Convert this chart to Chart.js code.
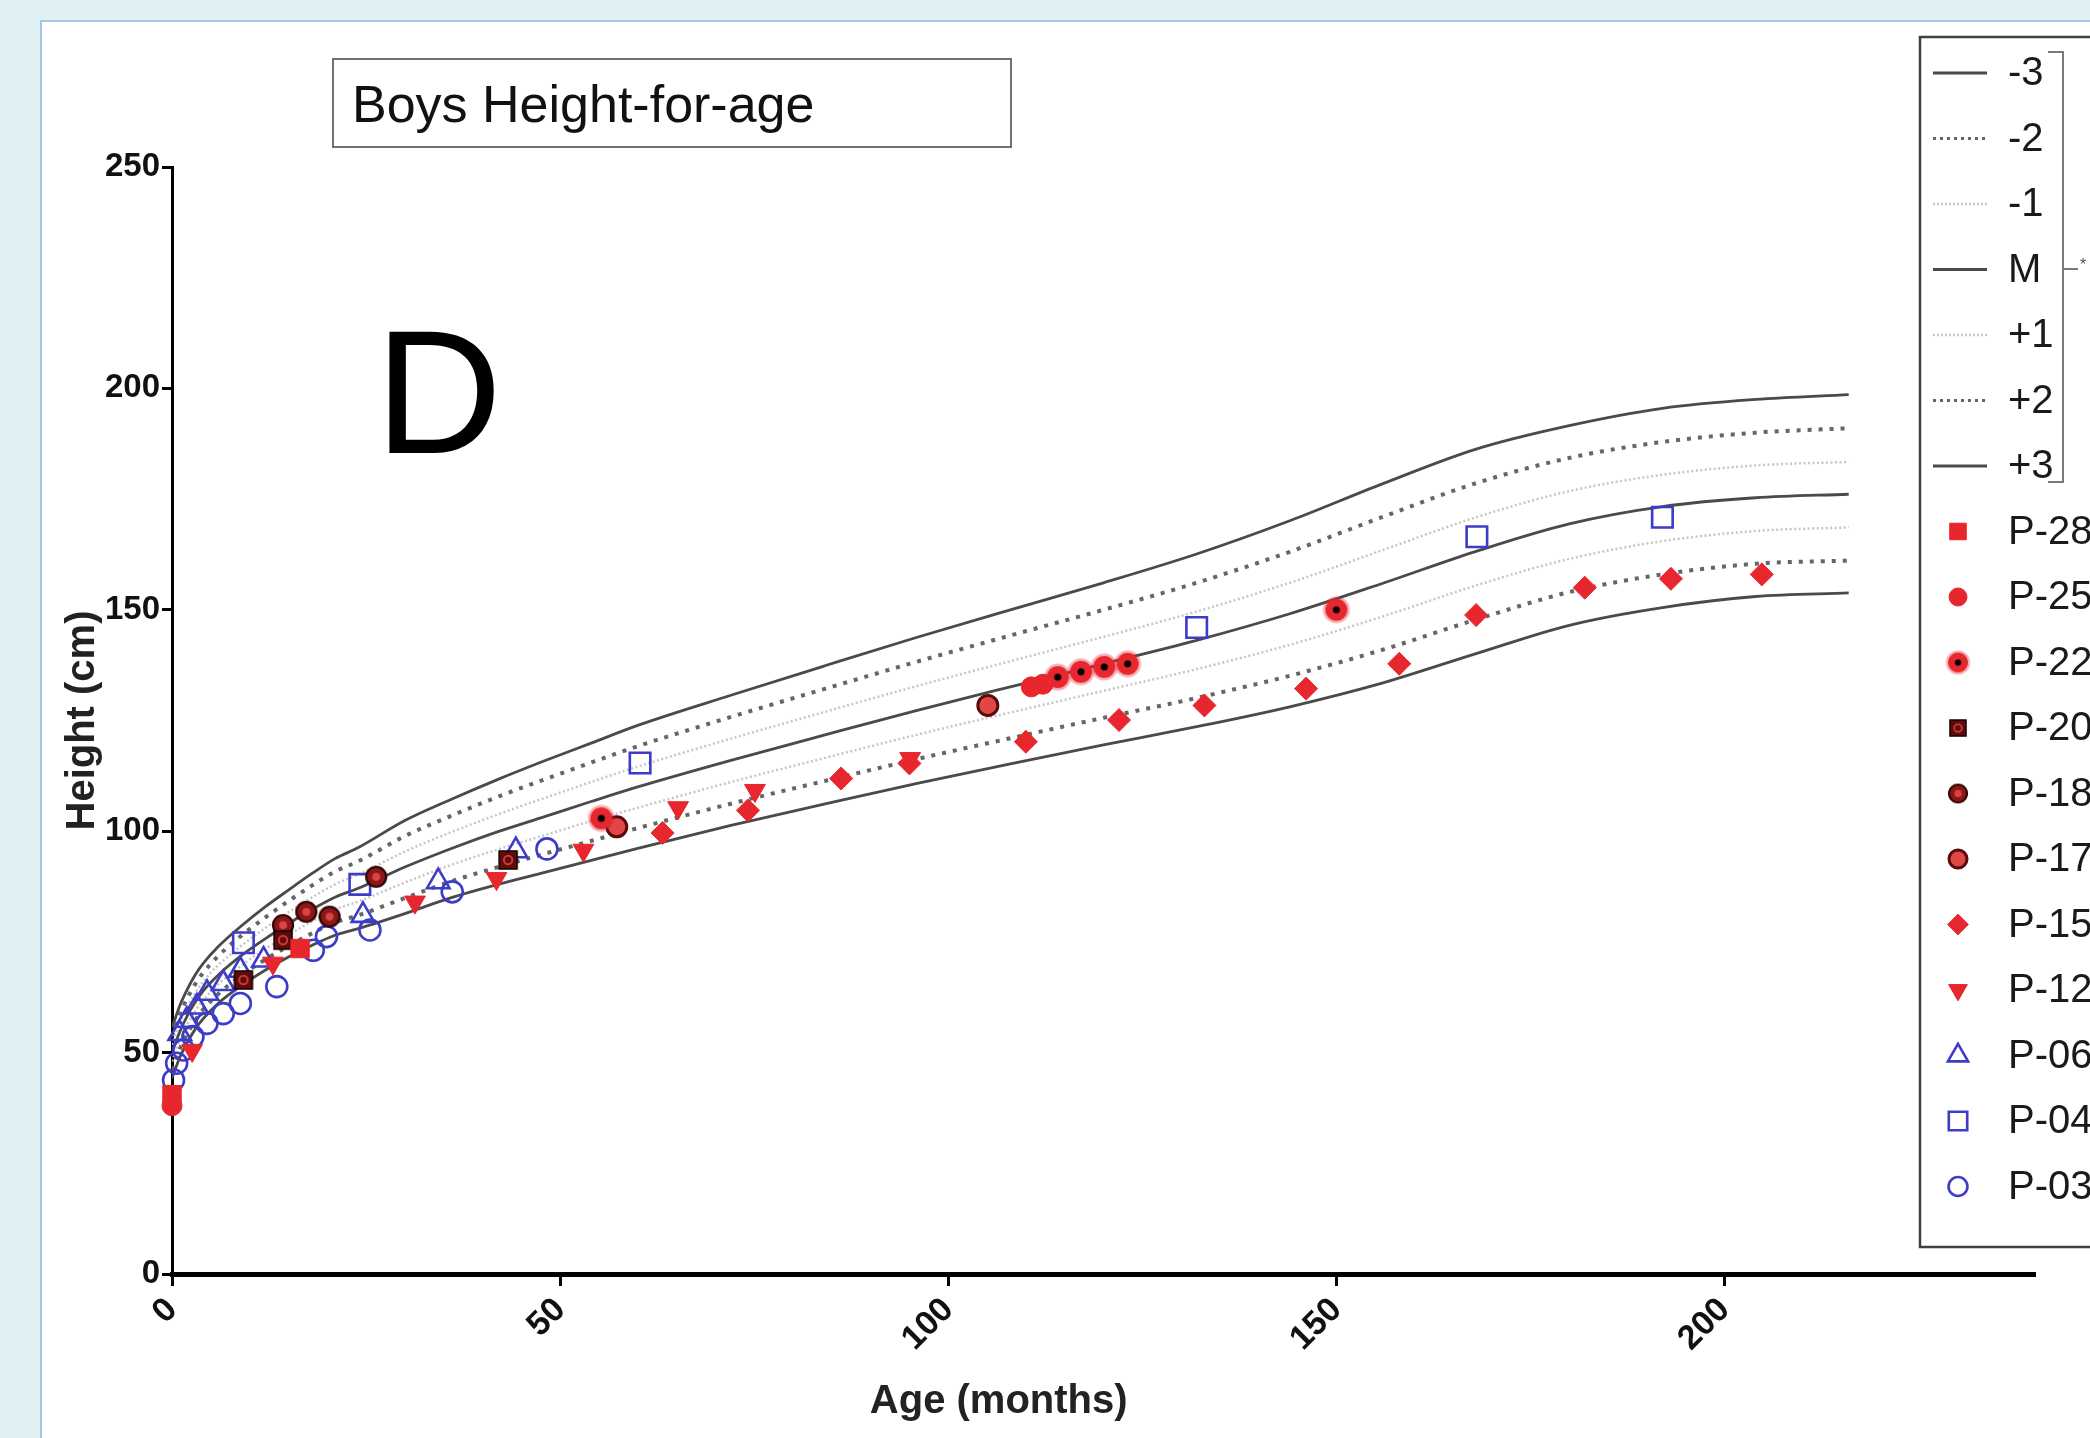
<!DOCTYPE html>
<html>
<head>
<meta charset="utf-8">
<script src="https://cdn.jsdelivr.net/npm/chart.js@4.4.1/dist/chart.umd.min.js"></script>
<style>
html,body{margin:0;padding:0;background:#e0eff2;overflow:hidden}
canvas{display:block}
</style>
</head>
<body>
<canvas id="c" width="2090" height="1438"></canvas>
<script>
// ---------- reference curves (age in months, height in cm) ----------
const refAges  = [0,1,2,3,4,6,9,12,15,18,21,24,30,36,42,48,54,60,72,84,96,108,120,132,144,156,168,180,192,204,216];
const sdMinus3 = [44.2,48.9,52.4,55.3,57.6,61.2,65.2,68.6,71.6,74.2,76.5,78.0,81.4,85.0,88.0,90.7,93.4,96.1,101.3,106.1,110.8,115.2,119.5,123.6,128.1,133.5,140.1,146.5,150.5,153.0,153.8];
const sdMinus2 = [46.1,50.8,54.4,57.3,59.7,63.3,67.5,71.0,74.1,76.9,79.4,81.0,84.9,88.7,91.9,94.9,97.8,100.7,106.2,111.3,116.3,121.0,125.6,130.1,135.1,141.0,147.8,154.0,158.0,160.4,161.1];
const sdMinus1 = [48.0,52.8,56.4,59.4,61.8,65.5,69.7,73.4,76.6,79.6,82.3,84.1,88.4,92.4,95.9,99.1,102.3,105.3,111.1,116.5,121.8,126.8,131.7,136.6,142.1,148.5,155.5,161.5,165.5,167.8,168.6];
const median   = [49.9,54.7,58.4,61.4,63.9,67.6,72.0,75.7,79.1,82.3,85.1,87.1,91.9,96.1,99.9,103.3,106.7,110.0,116.0,121.7,127.3,132.6,137.8,143.1,149.1,156.0,163.2,169.4,173.3,175.3,176.1];
const sdPlus1  = [51.8,56.7,60.4,63.5,66.0,69.8,74.2,78.1,81.7,85.0,88.0,90.2,95.4,99.8,103.8,107.5,111.1,114.6,120.9,126.9,132.8,138.4,143.9,149.6,156.1,163.5,170.9,176.8,180.5,182.6,183.4];
const sdPlus2  = [53.7,58.6,62.4,65.5,68.0,71.9,76.5,80.5,84.2,87.7,90.9,93.2,98.9,103.5,107.8,111.7,115.5,119.2,125.8,132.1,138.3,144.2,150.0,156.1,163.1,171.0,178.6,184.3,187.9,190.0,191.0];
const sdPlus3  = [55.6,60.6,64.4,67.6,70.1,74.0,78.7,82.9,86.7,90.4,93.8,96.3,102.4,107.2,111.7,115.9,119.9,123.9,130.7,137.3,143.8,150.0,156.1,162.6,170.1,178.5,186.3,191.6,195.5,197.5,198.6];

// ---------- patients ----------
const p28Age = [0, 16.5];
const p28Height = [40.5, 73.5];
const p25Age = [0, 110.7, 112.2];
const p25Height = [38.0, 132.6, 133.2];
const p22Age = [55.3, 114.1, 117.1, 120.1, 123.1, 150.0];
const p22Height = [102.9, 134.8, 136.0, 137.1, 137.8, 150.0];
const p20Age = [9.2, 14.3, 43.3];
const p20Height = [66.4, 75.4, 93.5];
const p18Age = [14.3, 17.3, 20.3, 26.3];
const p18Height = [78.8, 81.8, 80.7, 89.7];
const p17Age = [57.3, 105.1];
const p17Height = [101.0, 128.4];
const p15Age = [63.2, 74.2, 86.2, 95.0, 110.0, 122.0, 133.0, 146.1, 158.1, 168.0, 182.0, 193.1, 204.8];
const p15Height = [99.6, 104.7, 111.9, 115.3, 120.2, 125.1, 128.4, 132.2, 137.8, 148.8, 155.0, 157.0, 158.0];
const p12Age = [2.6, 13.0, 31.3, 41.8, 53.0, 65.2, 75.1, 95.1];
const p12Height = [50.5, 70.2, 84.0, 89.3, 95.7, 105.3, 109.2, 116.4];
const p06Age = [1.0, 1.9, 3.2, 4.5, 6.6, 8.8, 11.8, 24.6, 34.3, 44.3];
const p06Height = [54.3, 57.3, 60.3, 63.4, 65.6, 68.6, 70.9, 81.0, 88.6, 95.6];
const p04Age = [9.2, 24.2, 60.3, 132.0, 168.1, 192.0];
const p04Height = [74.8, 88.0, 115.4, 146.0, 166.5, 170.9];
const p03Age = [0.2, 0.6, 1.5, 2.7, 4.5, 6.6, 8.8, 13.5, 18.2, 19.9, 25.5, 36.1, 48.3];
const p03Height = [43.8, 47.6, 50.6, 53.6, 56.6, 58.8, 61.1, 64.9, 73.1, 76.2, 77.7, 86.3, 96.0];

// ---------- axis ticks ----------
const xTickValues = [0, 50, 100, 150, 200];
const yTickValues = [0, 50, 100, 150, 200, 250];

const FONT = "'Liberation Sans', Arial, Helvetica, sans-serif";
const RED = '#e8262d', BLUE = '#3c3cc8';

function pts(xs, ys) { return xs.map((x, i) => ({ x: x, y: ys[i] })); }

function markerCanvas(size, draw) {
  const c = document.createElement('canvas');
  c.width = size; c.height = size;
  draw(c.getContext('2d'), size / 2);
  return c;
}
const p22Style = markerCanvas(30, (g, m) => {
  g.fillStyle = 'rgba(232,38,45,0.35)'; g.beginPath(); g.arc(m, m, 13.5, 0, Math.PI * 2); g.fill();
  g.fillStyle = RED; g.beginPath(); g.arc(m, m, 11, 0, Math.PI * 2); g.fill();
  g.fillStyle = '#000'; g.beginPath(); g.arc(m, m, 3.5, 0, Math.PI * 2); g.fill();
});
const p18Style = markerCanvas(26, (g, m) => {
  g.fillStyle = '#8c1717'; g.strokeStyle = '#2e0303'; g.lineWidth = 2.2;
  g.beginPath(); g.arc(m, m, 10, 0, Math.PI * 2); g.fill(); g.stroke();
  g.fillStyle = '#d94545'; g.beginPath(); g.arc(m, m, 4, 0, Math.PI * 2); g.fill();
});
const p20Style = markerCanvas(26, (g, m) => {
  g.fillStyle = '#5e0b0b'; g.fillRect(m - 9, m - 9, 18, 18);
  g.strokeStyle = '#120000'; g.lineWidth = 1.5; g.strokeRect(m - 9, m - 9, 18, 18);
  g.strokeStyle = '#d23a3a'; g.lineWidth = 2; g.beginPath(); g.arc(m, m, 4.2, 0, Math.PI * 2); g.stroke();
});

function pointSet(label, xs, ys, style, r, fill, stroke, bw, rot) {
  return {
    label: label, data: pts(xs, ys), showLine: false, clip: false,
    pointStyle: style, pointRadius: r, pointHoverRadius: r,
    pointBackgroundColor: fill, pointBorderColor: stroke, pointBorderWidth: bw,
    backgroundColor: fill, borderColor: stroke, pointRotation: rot || 0
  };
}
function curveSet(label, ys, color, width, dash) {
  return {
    label: label, data: pts(refAges, ys), showLine: true, fill: false,
    borderColor: color, borderWidth: width, borderDash: dash, pointRadius: 0, pointHoverRadius: 0,
    tension: 0.4, cubicInterpolationMode: 'monotone', isCurve: true
  };
}

const pointSets = [
  pointSet('P-28', p28Age, p28Height, 'rect', 13, RED, RED, 1),
  pointSet('P-25', p25Age, p25Height, 'circle', 10, RED, RED, 1),
  pointSet('P-22', p22Age, p22Height, p22Style, 14, RED, RED, 0),
  pointSet('P-20', p20Age, p20Height, p20Style, 13, '#5e0b0b', '#120000', 0),
  pointSet('P-18', p18Age, p18Height, p18Style, 13, '#8c1717', '#2e0303', 0),
  pointSet('P-17', p17Age, p17Height, 'circle', 10, '#e04848', '#5a0a0a', 3),
  pointSet('P-15', p15Age, p15Height, 'rectRot', 11.5, RED, RED, 1),
  pointSet('P-12', p12Age, p12Height, 'triangle', 12, RED, RED, 1, 180),
  pointSet('P-06', p06Age, p06Height, 'triangle', 13, 'rgba(0,0,0,0)', BLUE, 2.6),
  pointSet('P-04', p04Age, p04Height, 'rect', 14.5, 'rgba(0,0,0,0)', BLUE, 2.6),
  pointSet('P-03', p03Age, p03Height, 'circle', 10.5, 'rgba(0,0,0,0)', BLUE, 2.6)
];
const SOLID = '#4a4a4a', DOT2 = '#666666', DOT1 = '#c6c6c6';
const curveSets = [
  curveSet('-3', sdMinus3, SOLID, 2.8, []),
  curveSet('-2', sdMinus2, DOT2, 4, [4, 7]),
  curveSet('-1', sdMinus1, DOT1, 2.5, [2, 2.5]),
  curveSet('M', median, SOLID, 2.8, []),
  curveSet('+1', sdPlus1, DOT1, 2.5, [2, 2.5]),
  curveSet('+2', sdPlus2, DOT2, 4, [4, 7]),
  curveSet('+3', sdPlus3, SOLID, 2.8, [])
];

function drawMarker(ctx, ds, x, y) {
  const style = ds.pointStyle, r = ds.pointRadius * 0.9;
  ctx.save();
  if (style instanceof HTMLCanvasElement) {
    const w = style.width * 0.9;
    ctx.drawImage(style, x - w / 2, y - w / 2, w, w);
    ctx.restore(); return;
  }
  ctx.fillStyle = ds.pointBackgroundColor; ctx.strokeStyle = ds.pointBorderColor; ctx.lineWidth = ds.pointBorderWidth;
  ctx.beginPath();
  if (style === 'circle') ctx.arc(x, y, r, 0, Math.PI * 2);
  else if (style === 'rect') { const s = r * Math.SQRT1_2; ctx.rect(x - s, y - s, 2 * s, 2 * s); }
  else if (style === 'rectRot') { ctx.moveTo(x, y - r); ctx.lineTo(x + r, y); ctx.lineTo(x, y + r); ctx.lineTo(x - r, y); ctx.closePath(); }
  else if (style === 'triangle') {
    let a = (ds.pointRotation || 0) * Math.PI / 180;
    for (let k = 0; k < 3; k++) {
      const px = x + Math.sin(a) * r, py = y - Math.cos(a) * r;
      if (k === 0) ctx.moveTo(px, py); else ctx.lineTo(px, py);
      a += 2 * Math.PI / 3;
    }
    ctx.closePath();
  }
  ctx.fill();
  if (ds.pointBorderWidth > 0) ctx.stroke();
  ctx.restore();
}

const backgroundPlugin = {
  id: 'bg',
  beforeDraw(chart) {
    const ctx = chart.ctx, W = chart.width, H = chart.height;
    ctx.save();
    ctx.fillStyle = '#e0eff2'; ctx.fillRect(0, 0, W, H);
    ctx.fillStyle = '#ffffff'; ctx.fillRect(40, 20, W - 40, H - 20);
    ctx.strokeStyle = '#a2c6e4'; ctx.lineWidth = 2; ctx.strokeRect(41, 21, W, H);
    ctx.restore();
  }
};

const decorPlugin = {
  id: 'decor',
  afterDraw(chart) {
    const ctx = chart.ctx;
    ctx.save();
    // title box
    ctx.fillStyle = '#fff'; ctx.fillRect(333, 59, 678, 88);
    ctx.strokeStyle = '#707070'; ctx.lineWidth = 2; ctx.strokeRect(333, 59, 678, 88);
    ctx.fillStyle = '#111'; ctx.font = '52px ' + FONT; ctx.textBaseline = 'alphabetic'; ctx.textAlign = 'left';
    ctx.fillText('Boys Height-for-age', 352, 122);
    // panel letter
    ctx.fillStyle = '#000'; ctx.font = '176px ' + FONT;
    ctx.fillText('D', 375, 453);
    // x axis title
    const xs = chart.scales.x;
    ctx.fillStyle = '#222'; ctx.font = 'bold 40px ' + FONT; ctx.textAlign = 'center'; ctx.textBaseline = 'middle';
    ctx.fillText('Age (months)', xs.getPixelForValue(106.5), 1402);

    // legend
    const L = 1920, T = 37, B = 1247;
    ctx.fillStyle = '#fff'; ctx.fillRect(L, T, 200, B - T);
    ctx.strokeStyle = '#404040'; ctx.lineWidth = 2.5; ctx.strokeRect(L, T, 200, B - T);
    const entries = curveSets.concat(pointSets);
    const y0 = 73, step = 65.5;
    ctx.font = '40px ' + FONT; ctx.textAlign = 'left'; ctx.textBaseline = 'middle';
    entries.forEach((ds, i) => {
      const y = y0 + i * step;
      if (ds.isCurve) {
        ctx.save();
        ctx.strokeStyle = ds.borderColor; ctx.lineWidth = Math.min(ds.borderWidth, 3);
        ctx.setLineDash(ds.borderDash.length ? (ds.borderDash[0] > 3 ? [3, 4] : [2, 2]) : []);
        ctx.beginPath(); ctx.moveTo(1933, y); ctx.lineTo(1987, y); ctx.stroke();
        ctx.restore();
      } else {
        drawMarker(ctx, ds, 1958, y);
      }
      ctx.fillStyle = '#1a1a1a';
      ctx.fillText(ds.label, 2008, y + 1);
    });
    // bracket grouping the reference curves
    ctx.strokeStyle = '#7a7a7a'; ctx.lineWidth = 2; ctx.setLineDash([]);
    ctx.beginPath();
    ctx.moveTo(2048, 52); ctx.lineTo(2063, 52); ctx.lineTo(2063, 482); ctx.lineTo(2048, 482);
    ctx.moveTo(2063, 269); ctx.lineTo(2078, 269);
    ctx.stroke();
    ctx.fillStyle = '#555'; ctx.font = '16px ' + FONT; ctx.textAlign = 'left';
    ctx.fillText('*', 2080, 266);
    ctx.restore();
  }
};

Chart.defaults.font.family = FONT;

new Chart(document.getElementById('c'), {
  type: 'scatter',
  data: { datasets: pointSets.concat(curveSets) },
  options: {
    responsive: false, animation: false, devicePixelRatio: 1,
    layout: { padding: { left: 0, right: 55, top: 167, bottom: 0 } },
    plugins: { legend: { display: false }, tooltip: { enabled: false }, title: { display: false } },
    scales: {
      x: {
        type: 'linear', min: 0, max: 240,
        afterFit(s) { s.height = 164; },
        afterBuildTicks(s) { s.ticks = xTickValues.map(v => ({ value: v })); },
        grid: { display: true, drawOnChartArea: false, drawTicks: true, tickLength: 12, tickWidth: 3, tickColor: '#000' },
        border: { display: true, color: '#000', width: 5 },
        ticks: { minRotation: 45, maxRotation: 45, color: '#111', padding: 4, font: { size: 34, weight: 'bold' } },
        title: { display: false }
      },
      y: {
        type: 'linear', min: 0, max: 250,
        afterFit(s) { s.width = 172; },
        afterBuildTicks(s) { s.ticks = yTickValues.map(v => ({ value: v })); },
        grid: { display: true, drawOnChartArea: false, drawTicks: true, tickLength: 10, tickWidth: 3, tickColor: '#000' },
        border: { display: true, color: '#000', width: 3 },
        ticks: { color: '#111', padding: 2, font: { size: 33, weight: 'bold' } },
        title: { display: true, text: 'Height (cm)', color: '#222', font: { size: 40, weight: 'bold' }, padding: { top: 59, bottom: 0 } }
      }
    }
  },
  plugins: [backgroundPlugin, decorPlugin]
});
</script>
</body>
</html>
